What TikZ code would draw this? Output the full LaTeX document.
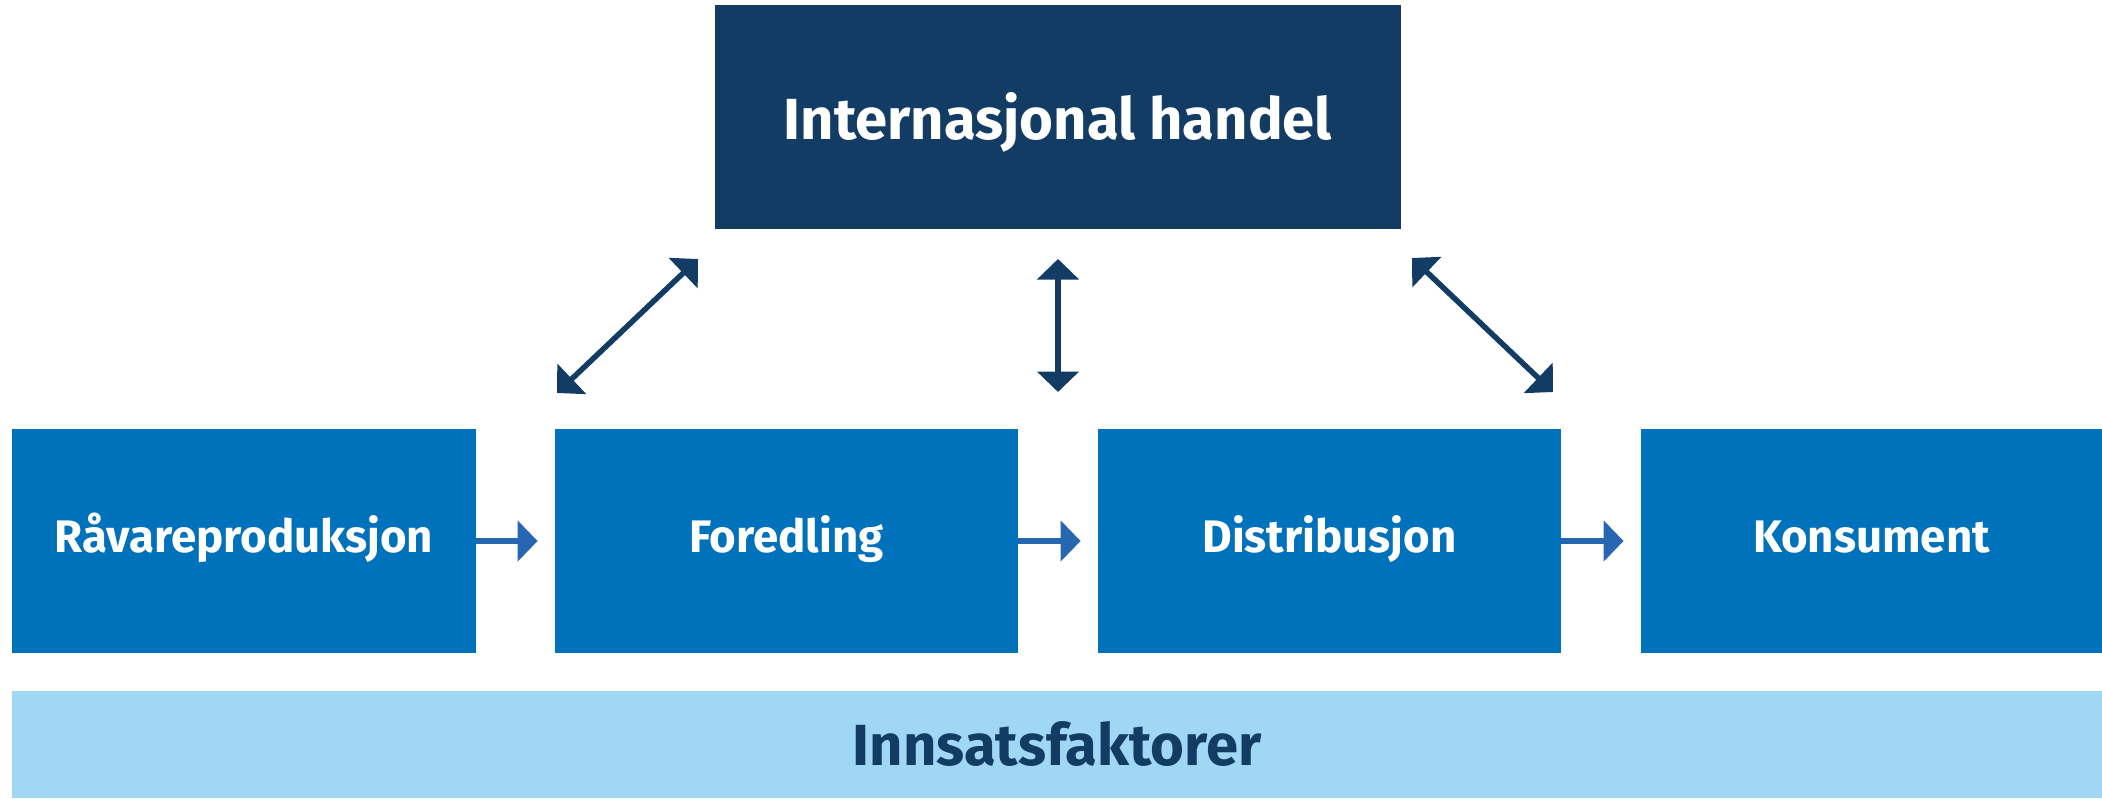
\documentclass[tikz,border=0pt]{standalone}
\usepackage{fontspec}
\setmainfont{Fira Sans}
\usetikzlibrary{arrows.meta}
\definecolor{navy}{RGB}{18,60,100}
\definecolor{midblue}{RGB}{0,113,187}
\definecolor{lightblue}{RGB}{160,215,244}
\definecolor{flowblue}{RGB}{39,102,176}
\tikzset{
  topbox/.style={fill=navy, text=white, inner sep=0pt, minimum width=343pt, minimum height=112pt,
    font=\bfseries\fontsize{29pt}{31pt}\selectfont, text height=22pt, text depth=0pt},
  rowbox/.style={fill=midblue, text=white, inner sep=0pt, minimum height=112pt,
    font=\bfseries\fontsize{22.8pt}{25pt}\selectfont, text height=15.5pt, text depth=4pt},
  basebar/.style={fill=lightblue, text=navy, inner sep=0pt, minimum width=1045pt, minimum height=53.5pt,
    font=\bfseries\fontsize{29pt}{31pt}\selectfont, text height=21pt, text depth=0pt},
  flowarrow/.style={draw=flowblue, line width=2.75pt,
    -{Triangle[length=10pt, width=20pt, fill=flowblue]}, shorten >=8.5pt},
  tradearrow/.style={draw=navy, line width=2.75pt,
    {Triangle[length=10.25pt, width=20.5pt, fill=navy]}-{Triangle[length=10.25pt, width=20.5pt, fill=navy]}},
}
\begin{document}
\begin{tikzpicture}[x=0.5pt, y=-0.5pt]
\useasboundingbox (0,0) rectangle (2102,798);
\node[topbox] (top) at (1058,117) {Internasjonal handel};
\node[rowbox, minimum width=232pt] (b1) at (244,541) {Råvareproduksjon};
\node[rowbox, minimum width=231.5pt] (b2) at (786.5,541) {Foredling};
\node[rowbox, minimum width=231.5pt] (b3) at (1329.5,541) {Distribusjon};
\node[rowbox, minimum width=230.5pt] (b4) at (1871.5,541) {Konsument};
\node[basebar] (bar) at (1057,744.5) {Innsatsfaktorer};
\draw[flowarrow] (b1.east) -- (b2.west);
\draw[flowarrow] (b2.east) -- (b3.west);
\draw[flowarrow] (b3.east) -- (b4.west);
\coordinate (la) at (557,393);
\coordinate (lb) at (698,259);
\coordinate (va) at (1058,392);
\coordinate (vb) at (1058,259);
\coordinate (ra) at (1553,392);
\coordinate (rb) at (1412,258);
\draw[tradearrow] (la) -- (lb);
\draw[tradearrow] (va) -- (vb);
\draw[tradearrow] (ra) -- (rb);
\end{tikzpicture}
\end{document}
